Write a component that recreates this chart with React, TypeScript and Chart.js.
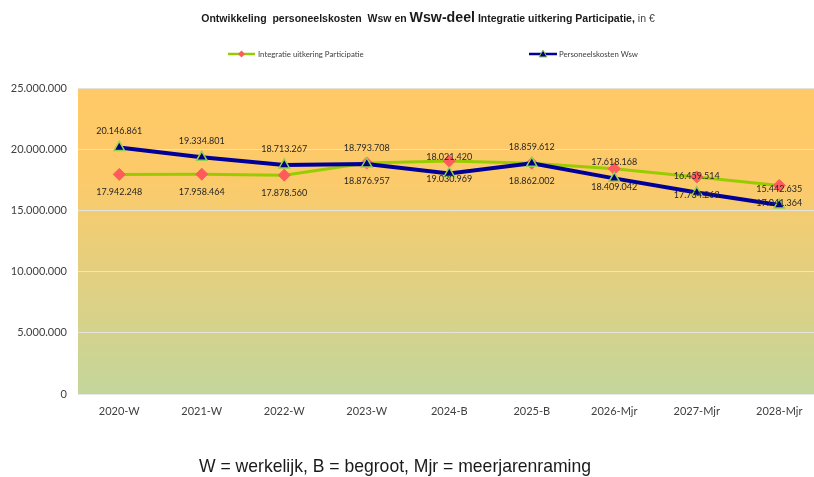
import React, { useEffect, useRef } from "react";
import { Chart, registerables } from "chart.js";

Chart.register(...registerables);

const categories = ["2020-W", "2021-W", "2022-W", "2023-W", "2024-B", "2025-B", "2026-Mjr", "2027-Mjr", "2028-Mjr"];
const personeelskostenWsw = [20146861, 19334801, 18713267, 18793708, 18021420, 18859612, 17618168, 16459514, 15442635];
const integratieUitkering = [17942248, 17958464, 17878560, 18876957, 19030969, 18862002, 18409042, 17734263, 17041364];
const yMin = 0;
const yMax = 25000000;
const yStep = 5000000;
const seriesNames = ["Integratie uitkering Participatie", "Personeelskosten Wsw"];
const footnote = "W = werkelijk, B = begroot, Mjr = meerjarenraming";

const LATO = "Lato, 'Liberation Sans', Arial, sans-serif";
const SANS = "'Liberation Sans', Arial, sans-serif";

const fmt = (v: number) => {
  const s = Math.round(v).toString();
  return s.replace(/\B(?=(\d{3})+(?!\d))/g, ".");
};

const GREEN_LINE = "#99CC00";
const DIAMOND = "#FF5B5B";
const BLUE_LINE = "#000099";
const TRI_FILL = "#000080";
const TRI_BORDER = "#92D050";

const bgPlugin = {
  id: "bgPlugin",
  beforeDraw(chart: any) {
    const { ctx, chartArea } = chart;
    ctx.save();
    const g = ctx.createLinearGradient(0, chartArea.top, 0, chartArea.bottom);
    g.addColorStop(0, "#FFC966");
    g.addColorStop(0.3, "#FCCA6A");
    g.addColorStop(1, "#C3D69B");
    ctx.fillStyle = g;
    ctx.fillRect(chartArea.left, chartArea.top, chartArea.right - chartArea.left, chartArea.bottom - chartArea.top);
    ctx.restore();
  },
};

const decorPlugin = {
  id: "decorPlugin",
  afterDatasetsDraw(chart: any) {
    const { ctx } = chart;
    ctx.save();
    ctx.font = `9px ${LATO}`;
    ctx.fillStyle = "#262626";
    ctx.textAlign = "center";
    ctx.textBaseline = "middle";
    chart.data.datasets.forEach((ds: any, i: number) => {
      const meta = chart.getDatasetMeta(i);
      const above = ds.label === seriesNames[1];
      meta.data.forEach((pt: any, j: number) => {
        ctx.fillText(fmt(ds.data[j]), pt.x, pt.y + (above ? -16 : 18));
      });
    });
    ctx.restore();
  },
  afterDraw(chart: any) {
    const { ctx } = chart;
    ctx.save();
    // Title with mixed runs
    const runs = [
      { t: "Ontwikkeling  personeelskosten  Wsw", f: `bold 10.5px ${SANS}`, c: "#1a1a1a" },
      { t: " en ", f: `bold 10.5px ${SANS}`, c: "#1a1a1a" },
      { t: "Wsw-deel", f: `bold 14.2px ${SANS}`, c: "#1a1a1a" },
      { t: " Integratie uitkering Participatie,", f: `bold 10.5px ${SANS}`, c: "#1a1a1a" },
      { t: " in €", f: `10.5px ${SANS}`, c: "#404040" },
    ];
    let total = 0;
    runs.forEach((r) => {
      ctx.font = r.f;
      total += ctx.measureText(r.t).width;
    });
    let x = 428 - total / 2;
    ctx.textBaseline = "alphabetic";
    ctx.textAlign = "left";
    runs.forEach((r) => {
      ctx.font = r.f;
      ctx.fillStyle = r.c;
      ctx.fillText(r.t, x, 22);
      x += ctx.measureText(r.t).width;
    });

    // Legend
    const drawDiamond = (cx: number, cy: number) => {
      ctx.beginPath();
      ctx.moveTo(cx, cy - 3.5);
      ctx.lineTo(cx + 3.5, cy);
      ctx.lineTo(cx, cy + 3.5);
      ctx.lineTo(cx - 3.5, cy);
      ctx.closePath();
      ctx.fillStyle = DIAMOND;
      ctx.fill();
    };
    const drawTri = (cx: number, cy: number) => {
      ctx.beginPath();
      ctx.moveTo(cx, cy - 4);
      ctx.lineTo(cx + 4, cy + 3);
      ctx.lineTo(cx - 4, cy + 3);
      ctx.closePath();
      ctx.fillStyle = TRI_FILL;
      ctx.fill();
      ctx.lineWidth = 1;
      ctx.strokeStyle = TRI_BORDER;
      ctx.stroke();
    };
    const ly = 54;
    ctx.lineWidth = 2.5;
    ctx.strokeStyle = GREEN_LINE;
    ctx.beginPath();
    ctx.moveTo(228, ly);
    ctx.lineTo(255, ly);
    ctx.stroke();
    drawDiamond(241.5, ly);
    ctx.strokeStyle = BLUE_LINE;
    ctx.lineWidth = 2.5;
    ctx.beginPath();
    ctx.moveTo(529, ly);
    ctx.lineTo(557, ly);
    ctx.stroke();
    drawTri(543, ly);
    ctx.font = `7.8px ${LATO}`;
    ctx.fillStyle = "#404040";
    ctx.textBaseline = "middle";
    ctx.fillText(seriesNames[0], 258, ly);
    ctx.fillText(seriesNames[1], 559, ly);

    // Footnote (narrow look)
    ctx.font = `19px ${SANS}`;
    ctx.fillStyle = "#1a1a1a";
    ctx.textAlign = "center";
    ctx.textBaseline = "middle";
    const w = ctx.measureText(footnote).width;
    const sx = 392 / w;
    ctx.translate(395, 467);
    ctx.scale(sx, 1);
    ctx.fillText(footnote, 0, 0);
    ctx.restore();
  },
};

export default function App() {
  const ref = useRef<HTMLCanvasElement | null>(null);
  useEffect(() => {
    if (!ref.current) return;
    const chart = new Chart(ref.current, {
      type: "line",
      data: {
        labels: categories,
        datasets: [
          {
            label: seriesNames[1],
            data: personeelskostenWsw,
            borderColor: BLUE_LINE,
            borderWidth: 4,
            pointStyle: "triangle",
            pointRadius: 6,
            pointBackgroundColor: TRI_FILL,
            pointBorderColor: TRI_BORDER,
            pointBorderWidth: 1.5,
            tension: 0,
            fill: false,
          },
          {
            label: seriesNames[0],
            data: integratieUitkering,
            borderColor: GREEN_LINE,
            borderWidth: 3,
            pointStyle: "rectRot",
            pointRadius: 6,
            pointBackgroundColor: DIAMOND,
            pointBorderColor: DIAMOND,
            pointBorderWidth: 1,
            tension: 0,
            fill: false,
          },
        ],
      },
      options: {
        animation: false,
        responsive: false,
        devicePixelRatio: 1,
        layout: { padding: { top: 88, bottom: 53, left: 0, right: 0 } },
        plugins: {
          legend: { display: false },
          title: { display: false },
          tooltip: { enabled: false },
        },
        scales: {
          x: {
            offset: true,
            grid: { display: false, drawTicks: false },
            border: { display: false },
            ticks: { color: "#404040", font: { family: LATO, size: 11 }, padding: 11, maxRotation: 0, autoSkip: false },
            afterFit: (s: any) => { s.height = 30; },
          },
          y: {
            min: yMin,
            max: yMax,
            grid: { color: "rgba(228,228,232,0.9)", drawTicks: false, lineWidth: 1 },
            border: { display: false },
            ticks: { stepSize: yStep, color: "#404040", font: { family: LATO, size: 11 }, padding: 11, callback: (v: any) => fmt(Number(v)) },
            afterFit: (s: any) => { s.width = 78; },
          },
        },
      },
      plugins: [bgPlugin, decorPlugin],
    });
    return () => chart.destroy();
  }, []);
  return (
    <div style={{ position: "absolute", left: 0, top: 0, width: 814, height: 477, overflow: "hidden", background: "#fff" }}>
      <canvas ref={ref} width={828} height={477} style={{ display: "block" }} />
    </div>
  );
}
